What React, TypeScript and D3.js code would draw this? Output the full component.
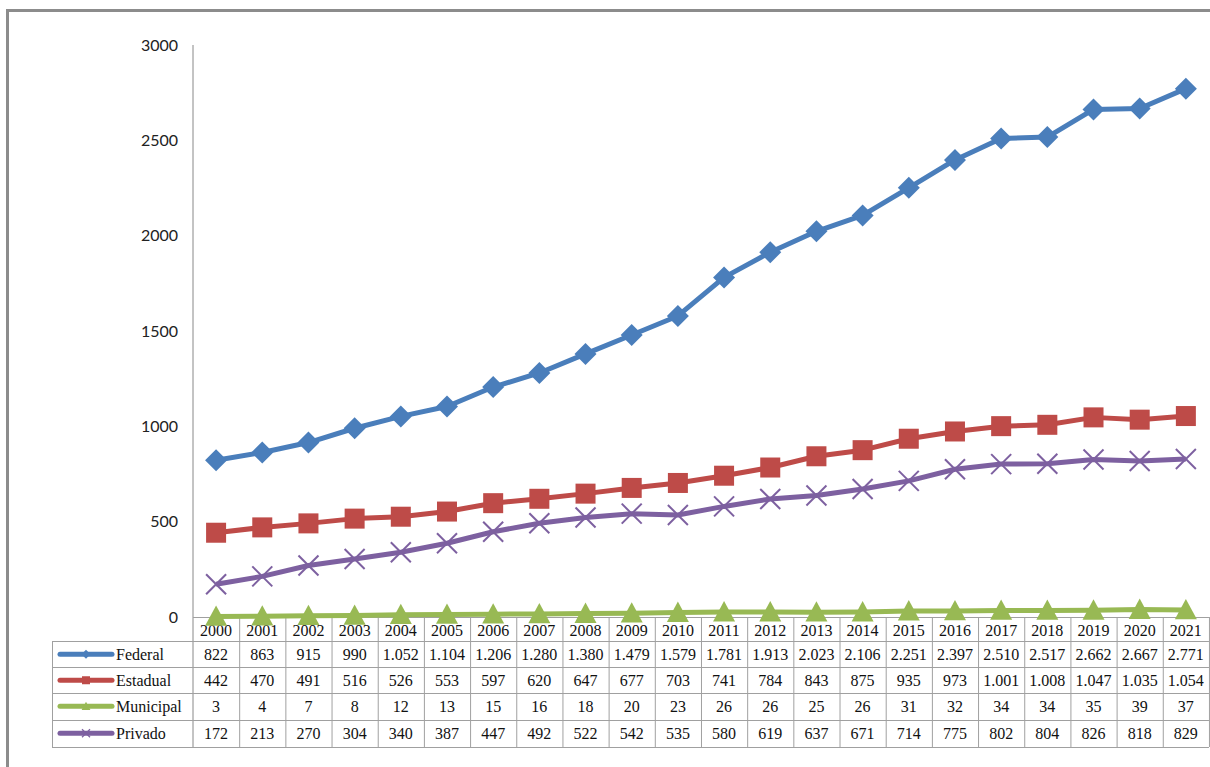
import React from "react";
import * as d3 from "d3";

const years = ["2000","2001","2002","2003","2004","2005","2006","2007","2008","2009","2010","2011","2012","2013","2014","2015","2016","2017","2018","2019","2020","2021"];
const federal = [822,863,915,990,1052,1104,1206,1280,1380,1479,1579,1781,1913,2023,2106,2251,2397,2510,2517,2662,2667,2771];
const estadual = [442,470,491,516,526,553,597,620,647,677,703,741,784,843,875,935,973,1001,1008,1047,1035,1054];
const municipal = [3,4,7,8,12,13,15,16,18,20,23,26,26,25,26,31,32,34,34,35,39,37];
const privado = [172,213,270,304,340,387,447,492,522,542,535,580,619,637,671,714,775,802,804,826,818,829];
const yTicks = [0,500,1000,1500,2000,2500,3000];

const seriesList = [
  { name: "Federal", values: federal, color: "#4A7EBB", marker: "diamond" },
  { name: "Estadual", values: estadual, color: "#BE4B48", marker: "square" },
  { name: "Municipal", values: municipal, color: "#98B954", marker: "triangle" },
  { name: "Privado", values: privado, color: "#7D60A0", marker: "x" },
];

const fmt = (v: number) => (v >= 1000 ? d3.format(",")(v).replace(/,/g, ".") : String(v));

function Marker({ type, x, y, color, s = 1 }: any) {
  if (type === "diamond") {
    const r = 11 * s;
    return <path d={`M${x},${y - r}L${x + r},${y}L${x},${y + r}L${x - r},${y}Z`} fill={color} />;
  }
  if (type === "square") {
    const r = 10 * s;
    return <rect x={x - r} y={y - r} width={2 * r} height={2 * r} fill={color} />;
  }
  if (type === "triangle") {
    const r = 11 * s;
    return <path d={`M${x},${y - r}L${x + r},${y + r * 0.85}L${x - r},${y + r * 0.85}Z`} fill={color} />;
  }
  const r = 10 * s;
  return (
    <g stroke={color} strokeWidth={2 * Math.max(s, 0.6)}>
      <line x1={x - r} y1={y - r} x2={x + r} y2={y + r} />
      <line x1={x - r} y1={y + r} x2={x + r} y2={y - r} />
    </g>
  );
}

export default function App() {
  const W = 1210, H = 767;
  const plotLeft = 193;
  const colW = 46.18;
  const plotRight = plotLeft + colW * years.length;
  const x = d3.scaleBand<string>().domain(years).range([plotLeft, plotRight]);
  const y = d3.scaleLinear().domain([0, 3000]).range([617, 45]);
  const cx = (yr: string) => (x(yr) as number) + x.bandwidth() / 2;
  const line = d3.line<number>().x((_, i) => cx(years[i])).y((v) => y(v));

  const rowTops = [641, 667, 693, 720];
  const rowH = 26.5;
  const tableBottom = 747;
  const grid = "#A0A0A0";
  const serif = "'Liberation Serif', 'Times New Roman', serif";

  return (
    <svg width={W} height={H} style={{ position: "absolute", left: 0, top: 0, background: "#fff" }}>
      <rect x={0} y={0} width={W} height={H} fill="#fff" />
      {/* outer border */}
      <line x1={7} y1={10.5} x2={W} y2={10.5} stroke="#8C8C8C" strokeWidth={3} />
      <line x1={7.5} y1={9} x2={7.5} y2={H} stroke="#8C8C8C" strokeWidth={3} />

      {/* y axis */}
      <line x1={plotLeft} y1={45} x2={plotLeft} y2={tableBottom} stroke="#888" strokeWidth={1} />
      {yTicks.map((t) => (
        <text key={t} x={178} y={y(t)} dy="0.35em" textAnchor="end" fontFamily="Lato, 'Open Sans', sans-serif" fontSize={16} fill="#222">
          {t}
        </text>
      ))}

      {/* table grid */}
      <line x1={plotLeft} y1={617.5} x2={plotRight} y2={617.5} stroke={grid} />
      {rowTops.map((t) => (
        <line key={t} x1={52} y1={t + 0.5} x2={plotRight} y2={t + 0.5} stroke={grid} />
      ))}
      <line x1={52} y1={tableBottom + 0.5} x2={plotRight} y2={tableBottom + 0.5} stroke={grid} />
      <line x1={52.5} y1={641} x2={52.5} y2={tableBottom} stroke={grid} />
      {years.map((yr, i) => (
        <line key={yr} x1={(x(yr) as number) + x.bandwidth() + 0.5} y1={617} x2={(x(yr) as number) + x.bandwidth() + 0.5} y2={tableBottom} stroke={grid} />
      ))}

      {/* header years */}
      {years.map((yr) => (
        <text key={yr} x={cx(yr)} y={636} textAnchor="middle" fontFamily={serif} fontSize={16} fill="#111">
          {yr}
        </text>
      ))}

      {/* table rows */}
      {seriesList.map((s, r) => (
        <g key={s.name}>
          <line x1={60} y1={rowTops[r] + rowH / 2} x2={112} y2={rowTops[r] + rowH / 2} stroke={s.color} strokeWidth={5} strokeLinecap="round" />
          <Marker type={s.marker} x={86} y={rowTops[r] + rowH / 2} color={s.color} s={0.4} />
          <text x={116} y={rowTops[r] + 19} fontFamily={serif} fontSize={16} fill="#111">
            {s.name}
          </text>
          {s.values.map((v, i) => (
            <text key={i} x={cx(years[i])} y={rowTops[r] + 19} textAnchor="middle" fontFamily={serif} fontSize={16} fill="#111">
              {fmt(v)}
            </text>
          ))}
        </g>
      ))}

      {/* series lines */}
      {seriesList.map((s) => (
        <g key={s.name}>
          <path d={line(s.values) as string} fill="none" stroke={s.color} strokeWidth={5} strokeLinejoin="round" />
          {s.values.map((v, i) => (
            <Marker key={i} type={s.marker} x={cx(years[i])} y={y(v)} color={s.color} />
          ))}
        </g>
      ))}
    </svg>
  );
}
